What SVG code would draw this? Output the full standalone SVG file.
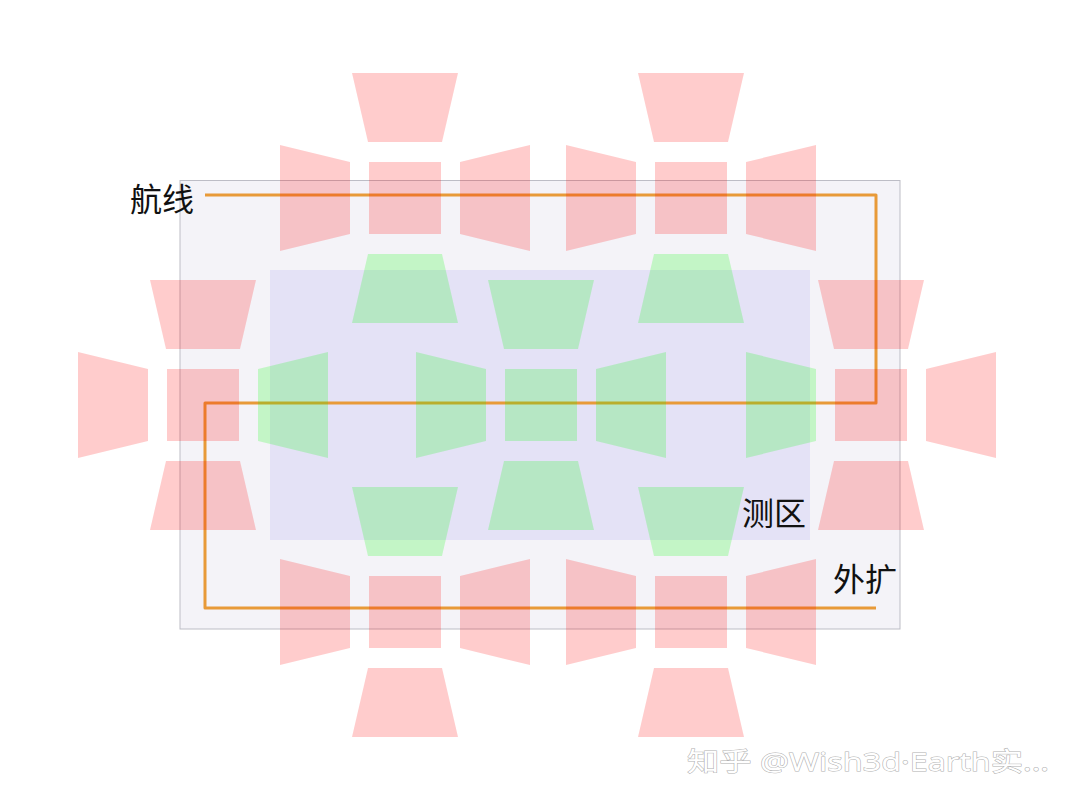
<svg xmlns="http://www.w3.org/2000/svg" width="1080" height="810" viewBox="0 0 1080 810">
<style>
.pink{fill:#ff0000;fill-opacity:0.2}
.green{fill:#00ff00;fill-opacity:0.2}
.label{font-family:"Noto Sans CJK SC","Noto Sans",sans-serif;font-size:32px;fill:#111}
.wm{font-family:"Noto Sans","Noto Sans CJK SC",sans-serif;font-size:26px;fill:#ffffff;stroke:#b0b0b0;stroke-width:1;paint-order:stroke}
</style>
<defs>
<polygon id="sq" points="-36,-36 36,-36 36,36 -36,36"/>
<polygon id="tp" points="-53,-125 53,-125 37,-56 -37,-56"/>
<polygon id="bt" points="-37,56 37,56 53,125 -53,125"/>
<polygon id="lf" points="-125,-53 -55,-36 -55,36 -125,53"/>
<polygon id="rt" points="55,-36 125,-53 125,53 55,36"/>
</defs>
<rect width="1080" height="810" fill="#ffffff"/>
<g id="area-expand">
<rect x="180" y="180.5" width="720" height="448.5" fill="#f4f3f8" stroke="#bdbdc6" stroke-width="1"/>
</g>
<g id="area-survey">
<rect x="270" y="270" width="540" height="270" fill="#e4e2f6"/>
</g>
<g id="connectors">
<path d="M205,195 H876 V403 H205 V608 H876" fill="none" stroke="#e89a38" stroke-width="3" stroke-linejoin="round"/>
</g>
<g id="cross-A" transform="translate(405,198)">
<use href="#tp" class="pink"/><use href="#sq" class="pink"/><use href="#lf" class="pink"/><use href="#rt" class="pink"/><use href="#bt" class="green"/>
</g>
<g id="cross-B" transform="translate(691,198)">
<use href="#tp" class="pink"/><use href="#sq" class="pink"/><use href="#lf" class="pink"/><use href="#rt" class="pink"/><use href="#bt" class="green"/>
</g>
<g id="cross-C" transform="translate(203,405)">
<use href="#tp" class="pink"/><use href="#sq" class="pink"/><use href="#lf" class="pink"/><use href="#rt" class="green"/><use href="#bt" class="pink"/>
</g>
<g id="cross-D" transform="translate(541,405)">
<use href="#tp" class="green"/><use href="#sq" class="green"/><use href="#lf" class="green"/><use href="#rt" class="green"/><use href="#bt" class="green"/>
</g>
<g id="cross-E" transform="translate(871,405)">
<use href="#tp" class="pink"/><use href="#sq" class="pink"/><use href="#lf" class="green"/><use href="#rt" class="pink"/><use href="#bt" class="pink"/>
</g>
<g id="cross-F" transform="translate(405,612)">
<use href="#tp" class="green"/><use href="#sq" class="pink"/><use href="#lf" class="pink"/><use href="#rt" class="pink"/><use href="#bt" class="pink"/>
</g>
<g id="cross-G" transform="translate(691,612)">
<use href="#tp" class="green"/><use href="#sq" class="pink"/><use href="#lf" class="pink"/><use href="#rt" class="pink"/><use href="#bt" class="pink"/>
</g>
<g id="label-route"><text class="label" x="130" y="211">航线</text></g>
<g id="label-survey"><text class="label" x="742" y="525">测区</text></g>
<g id="label-expand"><text class="label" x="833" y="591">外扩</text></g>
<g id="watermark"><text class="wm" x="687" y="771" textLength="362" lengthAdjust="spacingAndGlyphs">知乎 @Wish3d·Earth实...</text></g>
</svg>
